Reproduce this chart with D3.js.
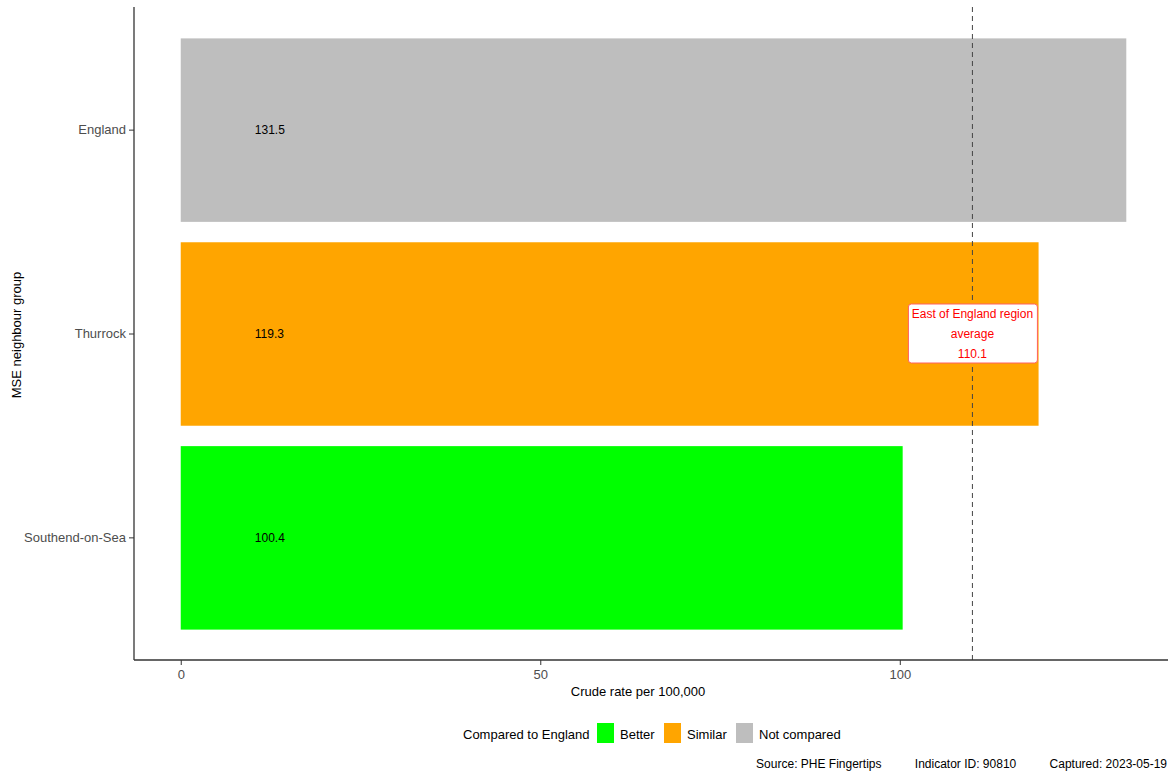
<!DOCTYPE html>
<html><head><meta charset="utf-8">
<script src="https://cdn.jsdelivr.net/npm/d3@7"></script>
<style>body{margin:0;background:#fff;font-family:"Liberation Sans",Arial,sans-serif}</style>
</head><body>
<script>
// data
var areas = ['England', 'Thurrock', 'Southend-on-Sea'];
var values = [131.5, 119.3, 100.4];
var groups = ['Not compared', 'Similar', 'Better'];
var legendKeys = ['Better', 'Similar', 'Not compared'];
var legendColours = ['#00ff00', '#ffa500', '#bebebe'];
var xTicks = [0, 50, 100];
var regionAvg = 110.1;

var W = 1171, H = 773;
var svg = d3.select('body').append('svg').attr('width', W).attr('height', H);
var colour = d3.scaleOrdinal().domain(legendKeys).range(legendColours);

var pLeft = 134, pRight = 1168, pTop = 7, pBottom = 660;
var x = d3.scaleLinear().domain([-6.5, 137.3]).range([pLeft, pRight]);
var y = d3.scaleBand().domain(areas).range([18, 650]).padding(0.1);

// bars
svg.selectAll('rect.bar').data(areas).enter().append('rect')
    .attr('class', 'bar')
    .attr('x', x(0))
    .attr('y', function (d) { return y(d); })
    .attr('width', function (d, i) { return x(values[i]) - x(0); })
    .attr('height', y.bandwidth())
    .attr('fill', function (d, i) { return colour(groups[i]); });

svg.selectAll('text.val').data(areas).enter().append('text')
    .attr('x', x(10.3)).attr('y', function (d) { return y(d) + y.bandwidth() / 2 + 4; })
    .attr('font-size', 12).attr('fill', '#000')
    .text(function (d, i) { return values[i].toFixed(1); });

// dashed average line
svg.append('line').attr('x1', x(regionAvg)).attr('x2', x(regionAvg))
    .attr('y1', pTop).attr('y2', pBottom)
    .attr('stroke', '#444').attr('stroke-dasharray', '5,4');
var bx = x(regionAvg), by = y('Thurrock') + y.bandwidth() / 2;
svg.append('rect').attr('x', bx - 64).attr('y', by - 30).attr('width', 129).attr('height', 59)
    .attr('rx', 3).attr('fill', '#fff').attr('stroke', '#ff6060');
['East of England region', 'average', regionAvg.toFixed(1)].forEach(function (t, i) {
    svg.append('text').attr('x', bx).attr('y', by - 16 + i * 20).attr('text-anchor', 'middle')
        .attr('font-size', 12).attr('fill', '#ff0000').text(t);
});

// axes
var xAxis = svg.append('g').attr('transform', 'translate(0,' + pBottom + ')')
    .call(d3.axisBottom(x).tickValues(xTicks).tickSize(5).tickPadding(5));
var yAxis = svg.append('g').attr('transform', 'translate(' + pLeft + ',0)')
    .call(d3.axisLeft(y).tickSize(5).tickPadding(3));
[xAxis, yAxis].forEach(function (a) {
    a.select('.domain').attr('stroke', '#333').attr('stroke-width', 1.3);
    a.selectAll('.tick line').attr('stroke', '#333');
    a.selectAll('.tick text').attr('font-size', 13).attr('fill', '#4d4d4d')
        .attr('font-family', '"Liberation Sans",Arial,sans-serif');
});
xAxis.select('.domain').attr('d', 'M' + pLeft + ',0H' + pRight);
yAxis.select('.domain').attr('d', 'M0,' + pTop + 'V' + pBottom);

svg.append('text').attr('x', 638).attr('y', 696).attr('text-anchor', 'middle')
    .attr('font-size', 13).text('Crude rate per 100,000');
svg.append('text').attr('transform', 'translate(21,335) rotate(-90)')
    .attr('text-anchor', 'middle').attr('font-size', 13).text('MSE neighbour group');

// legend
var lg = svg.append('g').attr('transform', 'translate(463,722)');
lg.append('text').attr('x', 0).attr('y', 17).attr('font-size', 13).text('Compared to England');
var lx = [134, 201, 273];
legendKeys.forEach(function (k, i) {
    lg.append('rect').attr('x', lx[i]).attr('y', 1).attr('width', 17).attr('height', 20).attr('fill', colour(k));
    lg.append('text').attr('x', lx[i] + 23).attr('y', 17).attr('font-size', 13).text(k);
});

// caption
svg.append('text').attr('x', 1167).attr('y', 768).attr('text-anchor', 'end').attr('font-size', 12)
    .attr('xml:space', 'preserve')
    .text('Source: PHE Fingertips          Indicator ID: 90810          Captured: 2023-05-19');
</script>
</body></html>
